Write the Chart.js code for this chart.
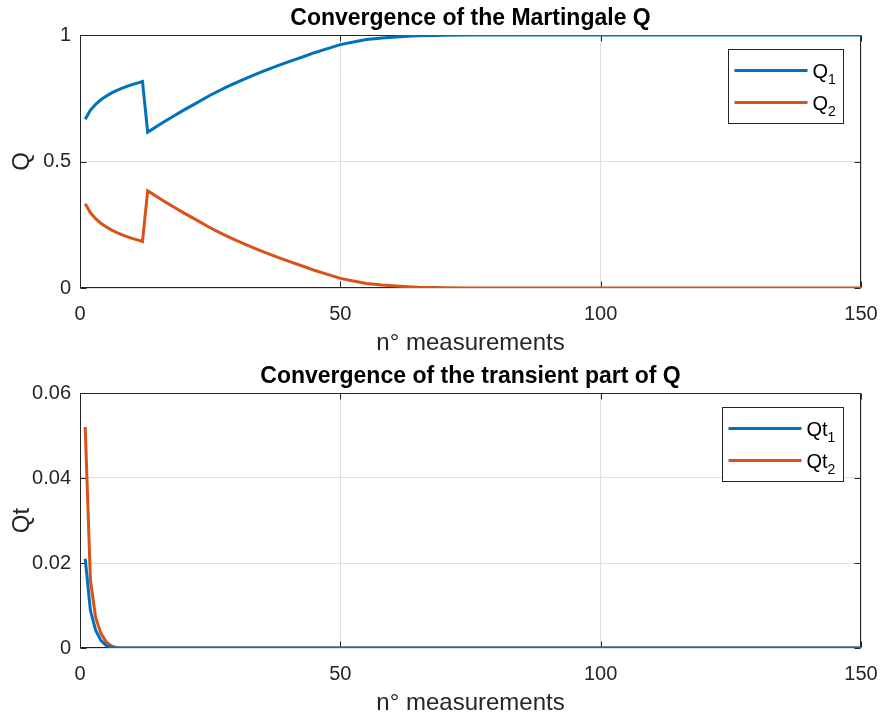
<!DOCTYPE html>
<html>
<head>
<meta charset="utf-8">
<script src="https://cdn.jsdelivr.net/npm/chart.js@4.4.1/dist/chart.umd.min.js"></script>
<style>
  html, body { margin: 0; padding: 0; background: #ffffff; }
  #wrap { position: relative; width: 883px; height: 719px; }
  canvas { position: absolute; left: 0; }
  #c1 { top: 0; }
  #c2 { top: 360px; }
</style>
</head>
<body>
<div id="wrap">
  <canvas id="c1" width="883" height="360"></canvas>
  <canvas id="c2" width="883" height="359"></canvas>
</div>
<script>
// ---------- data ----------
const measurementsQ = [1,2,3,4,5,6,7,8,9,10,11,12,13,14,15,16,18,20,22,25,28,30,33,35,38,40,43,45,48,50,53,55,58,60,63,65,68,70,75,80,90,100,110,120,130,140,150];
const q1Values = [0.667,0.703,0.726,0.744,0.758,0.770,0.780,0.789,0.797,0.804,0.810,0.816,0.616,0.629,0.642,0.655,0.680,0.704,0.727,0.762,0.793,0.812,0.838,0.855,0.879,0.894,0.915,0.930,0.949,0.962,0.974,0.982,0.988,0.991,0.995,0.997,0.998,0.999,1.000,1.000,1.000,1.000,1.000,1.000,1.000,1.000,1.000];
const q2Values = [0.333,0.297,0.274,0.256,0.242,0.230,0.220,0.211,0.203,0.196,0.190,0.184,0.384,0.371,0.358,0.345,0.320,0.296,0.273,0.238,0.207,0.188,0.162,0.145,0.121,0.106,0.085,0.070,0.051,0.038,0.026,0.018,0.012,0.009,0.005,0.003,0.002,0.001,0.000,0.000,0.000,0.000,0.000,0.000,0.000,0.000,0.000];

const measurementsQt = [1,2,3,4,5,6,7,8,9,10,150];
const qt1Values = [0.0210,0.0088,0.0042,0.0018,0.0006,0.00015,0.0000,0,0,0,0];
const qt2Values = [0.0520,0.0160,0.0072,0.0035,0.0015,0.0005,0.0001,0,0,0,0];

const xTickValues = [0, 50, 100, 150];
const yTickValuesQ = [0, 0.5, 1];
const yTickValuesQt = [0, 0.02, 0.04, 0.06];

const titleQ = 'Convergence of the Martingale Q';
const titleQt = 'Convergence of the transient part of Q';
const xLabel = 'n\u00B0 measurements';
const yLabelQ = 'Q';
const yLabelQt = 'Qt';
const legendQ = [['Q', '1'], ['Q', '2']];
const legendQt = [['Qt', '1'], ['Qt', '2']];

// ---------- styling ----------
const BLUE = '#0072BD';
const ORANGE = '#D95319';
const AXIS = '#262626';
const GRID = '#dfdfdf';
const FONT = "'Liberation Sans', Arial, Helvetica, sans-serif";

function pairs(xs, ys) { return xs.map((x, i) => ({ x: x, y: ys[i] })); }

const decorPlugin = {
  id: 'decor',
  beforeDatasetsDraw(chart) {
    const ctx = chart.ctx, a = chart.chartArea;
    const L = Math.round(a.left) + 0.5, R = Math.round(a.right) - 0.5;
    const T = Math.round(a.top) + 0.5, B = Math.round(a.bottom) - 0.5;
    ctx.save();
    ctx.strokeStyle = AXIS;
    ctx.lineWidth = 1;
    ctx.strokeRect(L, T, R - L, B - T);
    const tl = 6;
    ctx.beginPath();
    chart.scales.x.ticks.forEach(t => {
      const px = Math.round(chart.scales.x.getPixelForValue(t.value)) + 0.5;
      ctx.moveTo(px, B); ctx.lineTo(px, B - tl);
      ctx.moveTo(px, T); ctx.lineTo(px, T + tl);
    });
    chart.scales.y.ticks.forEach(t => {
      const py = Math.round(chart.scales.y.getPixelForValue(t.value)) + 0.5;
      ctx.moveTo(L, py); ctx.lineTo(L + tl, py);
      ctx.moveTo(R, py); ctx.lineTo(R - tl, py);
    });
    ctx.stroke();
    ctx.restore();
  },
  afterDatasetsDraw(chart) {
    const ctx = chart.ctx, a = chart.chartArea, o = chart.options.plugins.decor;
    ctx.save();
    // title
    ctx.fillStyle = '#000000';
    ctx.font = 'bold 23px ' + FONT;
    ctx.textAlign = 'center';
    ctx.textBaseline = 'alphabetic';
    ctx.fillText(o.title, (a.left + a.right) / 2, a.top - 10);
    // x label
    ctx.fillStyle = AXIS;
    ctx.font = '24px ' + FONT;
    ctx.fillText(o.xLabel, (a.left + a.right) / 2, a.bottom + 62);
    // y label
    ctx.save();
    ctx.translate(a.left - 52, (a.top + a.bottom) / 2);
    ctx.rotate(-Math.PI / 2);
    ctx.textBaseline = 'alphabetic';
    ctx.fillText(o.yLabel, 0, 1);
    ctx.restore();
    // legend
    const mainFont = '20px ' + FONT, subFont = '14px ' + FONT;
    let tw = 0;
    o.legend.forEach(l => {
      ctx.font = mainFont; let w = ctx.measureText(l[0]).width;
      ctx.font = subFont; w += ctx.measureText(l[1]).width;
      tw = Math.max(tw, w);
    });
    const lineLen = 73, padL = 6, gap = 5, padR = 8;
    const bw = Math.round(padL + lineLen + gap + tw + padR), bh = 74;
    const bx = Math.round(a.right - 18 - bw) + 0.5, by = Math.round(a.top + 14) + 0.5;
    ctx.fillStyle = '#ffffff';
    ctx.fillRect(bx, by, bw, bh);
    ctx.strokeStyle = AXIS; ctx.lineWidth = 1;
    ctx.strokeRect(bx, by, bw, bh);
    chart.data.datasets.forEach((ds, i) => {
      const yy = by + 21 + i * 32;
      ctx.strokeStyle = ds.borderColor; ctx.lineWidth = 3;
      ctx.beginPath(); ctx.moveTo(bx + padL, yy); ctx.lineTo(bx + padL + lineLen, yy); ctx.stroke();
      const l = o.legend[i];
      ctx.fillStyle = '#000000';
      ctx.textAlign = 'left'; ctx.textBaseline = 'alphabetic';
      ctx.font = mainFont;
      const tx = bx + padL + lineLen + gap;
      ctx.fillText(l[0], tx, yy + 7);
      const w0 = ctx.measureText(l[0]).width;
      ctx.font = subFont;
      ctx.fillText(l[1], tx + w0, yy + 13);
    });
    ctx.restore();
  }
};

function makeChart(id, xs, s1, s2, l1, l2, yTicks, yMax, padTop, xHeight, title, yLabel, legend) {
  return new Chart(document.getElementById(id), {
    type: 'line',
    data: {
      datasets: [
        { label: l1, data: pairs(xs, s1), borderColor: BLUE, backgroundColor: BLUE, borderWidth: 3, pointRadius: 0, tension: 0, fill: false },
        { label: l2, data: pairs(xs, s2), borderColor: ORANGE, backgroundColor: ORANGE, borderWidth: 3, pointRadius: 0, tension: 0, fill: false }
      ]
    },
    options: {
      responsive: false,
      animation: false,
      devicePixelRatio: 1,
      layout: { padding: { left: 0, right: 22, top: padTop, bottom: 0 } },
      plugins: {
        legend: { display: false },
        title: { display: false },
        tooltip: { enabled: false },
        decor: { title: title, xLabel: xLabel, yLabel: yLabel, legend: legend }
      },
      scales: {
        x: {
          type: 'linear', min: 0, max: 150,
          afterBuildTicks: s => { s.ticks = xTickValues.map(v => ({ value: v })); },
          afterFit: s => { s.height = xHeight; s.paddingLeft = 0; s.paddingRight = 0; },
          ticks: { color: AXIS, font: { family: FONT, size: 20 }, padding: 14, maxRotation: 0, callback: v => String(v) },
          grid: { color: GRID, lineWidth: 1, drawTicks: false },
          border: { display: false }
        },
        y: {
          type: 'linear', min: 0, max: yMax,
          afterBuildTicks: s => { s.ticks = yTicks.map(v => ({ value: v })); },
          afterFit: s => { s.width = 80; s.paddingTop = 0; s.paddingBottom = 0; },
          ticks: { color: AXIS, font: { family: FONT, size: 20 }, padding: 9, callback: v => String(v) },
          grid: { color: GRID, lineWidth: 1, drawTicks: false },
          border: { display: false }
        }
      }
    },
    plugins: [decorPlugin]
  });
}

makeChart('c1', measurementsQ, q1Values, q2Values, 'Q1', 'Q2', yTickValuesQ, 1, 35, 72, titleQ, yLabelQ, legendQ);
makeChart('c2', measurementsQt, qt1Values, qt2Values, 'Qt1', 'Qt2', yTickValuesQt, 0.06, 33, 71, titleQt, yLabelQt, legendQt);
</script>
</body>
</html>
